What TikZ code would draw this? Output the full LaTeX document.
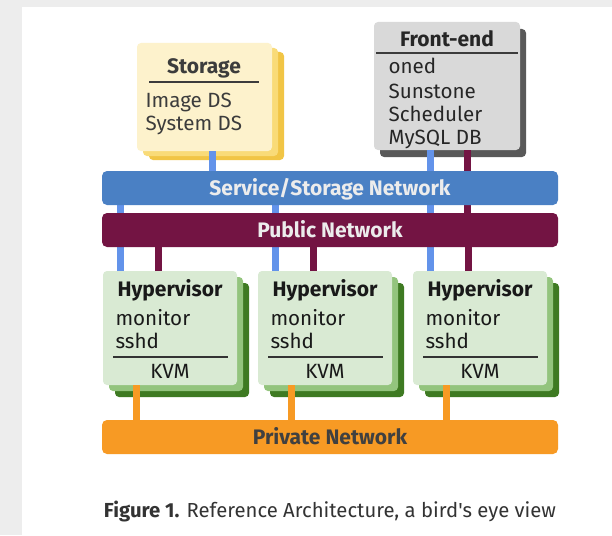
\documentclass[tikz,border=0pt]{standalone}
\usepackage{fontspec}
\setmainfont{Fira Sans}
\newfontfamily\capfont{Fira Sans}
\definecolor{bggray}{HTML}{EDEDED}
\definecolor{txt}{HTML}{3C3C3C}
\definecolor{stoA}{HTML}{FDF2CC}
\definecolor{stoB}{HTML}{F9DB78}
\definecolor{stoC}{HTML}{F1C545}
\definecolor{feA}{HTML}{D9D9D9}
\definecolor{feB}{HTML}{595959}
\definecolor{hvA}{HTML}{D9EAD3}
\definecolor{hvB}{HTML}{93C47D}
\definecolor{hvC}{HTML}{3E7A22}
\definecolor{svc}{HTML}{4A80C4}
\definecolor{svcline}{HTML}{6393EA}
\definecolor{pub}{HTML}{731443}
\definecolor{prv}{HTML}{F79A24}
\definecolor{barlabel}{HTML}{ECECEC}
\begin{document}
\begin{tikzpicture}[x=1pt,y=-1pt,
  box/.style={rounded corners=4pt, inner sep=0pt, outer sep=0pt, anchor=north west},
  hvbox/.style={box, minimum width=134pt, minimum height=114pt},
  stobox/.style={box, minimum width=135pt, minimum height=108pt},
  febox/.style={box, minimum width=146pt, minimum height=128pt},
  bar/.style={box, minimum width=456pt, minimum height=34pt},
  barlbl/.style={anchor=base, font=\fontsize{21}{24}\selectfont\bfseries},
  ttl/.style={anchor=base, font=\fontsize{21}{24}\selectfont\bfseries, text=txt},
  item/.style={anchor=base west, font=\fontsize{20.6}{24}\selectfont, text=txt},
  sep/.style={draw=txt, line width=1.3pt},
  wire/.style={line width=7pt}]
\fill[bggray] (0,0) rectangle (612,535);
\fill[white] (22,7) rectangle (612,535);
\useasboundingbox (0,0) rectangle (612,535);

% ---------- bars (named first, drawn later on top of the wires) ----------
\path (102,171) node[bar] (svc) {};
\path (102,213) node[bar] (pub) {};
\path (102,420) node[bar] (prv) {};

% ---------- storage ----------
\node[stobox, fill=stoC] (stoc) at (149,52) {};
\node[stobox, fill=stoB] (stob) at (143,48) {};
\node[stobox, fill=stoA] (sto) at (137,43) {};
\node[ttl] (stot) at (204,74) {Storage};
\coordinate (stol1) at (149,82);
\coordinate (stol2) at (259,82);
\draw[sep] (stol1) -- (stol2);
\node[item] (sto1) at (142,107) {Image DS};
\node[item] (sto2) at (142,130) {System DS};

% ---------- front-end ----------
\node[febox, fill=feB] (feb) at (380,29) {};
\node[febox, fill=feA] (fe) at (374,22) {};
\node[ttl, text=black!85] (fet) at (447,46) {Front-end};
\coordinate (fel1) at (376,53);
\coordinate (fel2) at (518,53);
\draw[sep] (fel1) -- (fel2);
\node[item, text=black!85] (fe1) at (385,74) {oned};
\node[item, text=black!85] (fe2) at (385,98) {Sunstone};
\node[item, text=black!85] (fe3) at (385,121) {Scheduler};
\node[item, text=black!85] (fe4) at (385,144) {MySQL DB};

% ---------- hypervisors ----------
\foreach \i/\x in {1/103,2/258,3/413}{
  \node[hvbox, fill=hvC] (hv\i c) at (\x+12,283) {};
  \node[hvbox, fill=hvB] (hv\i b) at (\x+6,277) {};
  \node[hvbox, fill=hvA] (hv\i) at (\x,271) {};
  \node[ttl, text=black!90] (hv\i t) at (\x+67,296) {Hypervisor};
  \node[item, text=black!90] (hv\i m) at (\x+9,325) {monitor};
  \node[item, text=black!90] (hv\i s) at (\x+9,348) {sshd};
  \coordinate (hv\i l1) at (\x+10,357);
  \coordinate (hv\i l2) at (\x+125,357);
  \draw[draw=black!80, line width=1.3pt] (hv\i l1) -- (hv\i l2);
  \node[anchor=base, font=\fontsize{20.6}{24}\selectfont, text=black!90] (hv\i k) at (\x+67,378) {KVM};
  % wires
  \coordinate (hv\i blue) at (\x+17,271);
  \coordinate (hv\i red) at (\x+55,271);
  \coordinate (hv\i org) at (\x+33,385);
  \draw[wire, svcline] (hv\i blue) -- (hv\i blue |- svc.south);
  \draw[wire, pub] (hv\i red) -- (hv\i red |- pub.south);
  \draw[wire, prv] (hv\i org) -- (hv\i org |- prv.north);
}
% front-end and storage wires
\coordinate (feblue) at (430,150);
\coordinate (fered) at (467,150);
\coordinate (stoblue) at (212,151);
\draw[wire, svcline] (stoblue) -- (stoblue |- svc.north);
\draw[wire, svcline] (feblue) -- (feblue |- svc.north);
\draw[wire, pub] (fered) -- (fered |- pub.north);

% ---------- bars on top ----------
\fill[svc, rounded corners=5pt] (svc.north west) rectangle (svc.south east);
\fill[pub, rounded corners=5pt] (pub.north west) rectangle (pub.south east);
\fill[prv, rounded corners=5pt] (prv.north west) rectangle (prv.south east);
\node[barlbl, text=barlabel] (svct) at (330,195) {Service/Storage Network};
\node[barlbl, text=barlabel] (pubt) at (330,237) {Public Network};
\node[barlbl, text=black!75] (prvt) at (330,444) {Private Network};

% ---------- caption ----------
\node[anchor=base, font=\capfont\fontsize{20.3}{24}\selectfont, text=black!80] (cap) at (330,517)
  {\textbf{Figure 1.} Reference Architecture, a bird's eye view};
\end{tikzpicture}
\end{document}
